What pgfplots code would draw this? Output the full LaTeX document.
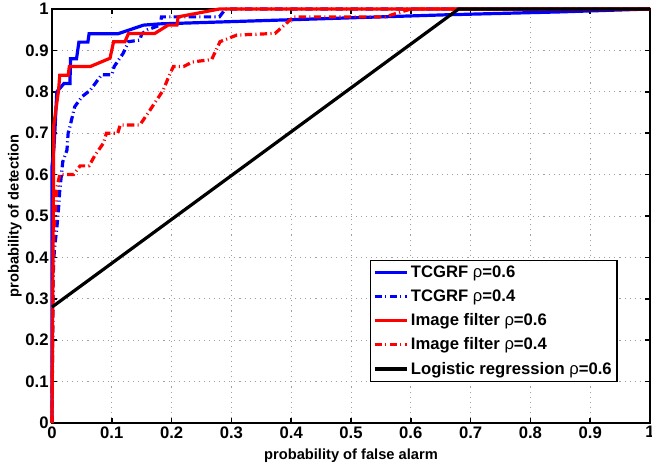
\documentclass[border=0pt]{standalone}
\usepackage{pgfplots}
\pgfplotsset{compat=1.18}
\usepackage{fontspec}
\setmainfont{Liberation Sans}
\tikzset{dashdot/.style={dash pattern=on 5.5pt off 2.5pt on 0.8pt off 2.5pt}}
\begin{document}
\begin{tikzpicture}
\begin{axis}[
  name=ax,
  scale only axis,
  width=448.5pt, height=310.5pt,
  xmin=0, xmax=1, ymin=0, ymax=1,
  xtick={0,0.1,...,1}, ytick={0,0.1,...,1},
  /pgf/number format/assume math mode=true,
  tick label style={font=\bfseries\fontsize{12.5}{14}\selectfont},
  xticklabel style={yshift=1pt},
  yticklabel style={xshift=1pt},
  label style={font=\bfseries\fontsize{11}{12}\selectfont},
  xlabel={probability of false alarm},
  ylabel={probability of detection},
  xlabel style={at={(axis description cs:0.5,-0.079)}, anchor=center},
  ylabel style={at={(axis description cs:-0.062,0.5)}, anchor=center},
  axis line style={line width=1.1pt},
  tick style={line width=1.1pt, black},
  major tick length=4pt,
  tick align=inside,
  grid=major,
  major grid style={line width=0.6pt, gray!75, dash pattern=on 0.8pt off 3pt},
  clip=false,
  legend style={at={(rel axis cs:0.946,0.099)}, anchor=south east,
    draw=black, line width=1pt, fill=white,
    font=\bfseries\fontsize{12.5}{14}\selectfont,
    row sep=3.6pt, inner xsep=2pt, inner ysep=2pt},
  legend cell align=left,
  legend image code/.code={\draw[#1] (0pt,0pt) -- (24pt,0pt);},
  every axis plot/.append style={line width=2.4pt, line join=miter},
]
\addplot[blue] coordinates {
(0,0) (0,0.62) (0.003,0.66) (0.005,0.71) (0.008,0.80) (0.02,0.82) (0.03,0.82)
(0.031,0.88) (0.041,0.88) (0.045,0.92) (0.06,0.92) (0.062,0.94) (0.11,0.94)
(0.153,0.961) (0.18,0.964) (0.66,0.986) (0.85,0.993) (1,1)};
\addlegendentry{TCGRF {\normalfont ρ}=0.6}
\addplot[blue, dashdot] coordinates {
(0,0) (0.002,0.36) (0.004,0.42) (0.008,0.47) (0.011,0.52) (0.013,0.563)
(0.016,0.603) (0.018,0.631) (0.025,0.659) (0.027,0.70) (0.030,0.716)
(0.038,0.764) (0.050,0.788) (0.064,0.804) (0.083,0.841) (0.10,0.841)
(0.104,0.861) (0.119,0.893) (0.128,0.921) (0.147,0.925) (0.15,0.94)
(0.16,0.95) (0.181,0.961) (0.183,0.981) (0.28,0.981) (0.29,1) (1,1)};
\addlegendentry{TCGRF {\normalfont ρ}=0.4}
\addplot[red] coordinates {
(0,0) (0.003,0.72) (0.011,0.804) (0.013,0.84) (0.027,0.84) (0.029,0.861)
(0.064,0.861) (0.097,0.881) (0.103,0.921) (0.122,0.921) (0.128,0.941)
(0.172,0.941) (0.194,0.961) (0.209,0.961) (0.211,0.981) (0.28,1) (1,1)};
\addlegendentry{Image filter {\normalfont ρ}=0.6}
\addplot[red, dashdot] coordinates {
(0,0) (0.002,0.42) (0.005,0.5) (0.008,0.567) (0.013,0.6) (0.036,0.6)
(0.047,0.621) (0.062,0.621) (0.072,0.647) (0.086,0.676) (0.091,0.70)
(0.11,0.70) (0.114,0.72) (0.147,0.72) (0.164,0.756) (0.175,0.78)
(0.186,0.804) (0.195,0.836) (0.203,0.861) (0.22,0.861) (0.235,0.872)
(0.267,0.878) (0.281,0.921) (0.309,0.937) (0.373,0.941) (0.404,0.981)
(0.557,0.981) (0.6,1) (1,1)};
\addlegendentry{Image filter {\normalfont ρ}=0.4}
\addplot[black] coordinates {(0,0.28) (0.68,1) (1,1)};
\addlegendentry{Logistic regression {\normalfont ρ}=0.6}
\end{axis}
\pgfresetboundingbox
\useasboundingbox ([xshift=-39pt,yshift=-32.25pt]ax.south west) rectangle ([xshift=1.5pt,yshift=6.75pt]ax.north east);
\end{tikzpicture}
\end{document}
